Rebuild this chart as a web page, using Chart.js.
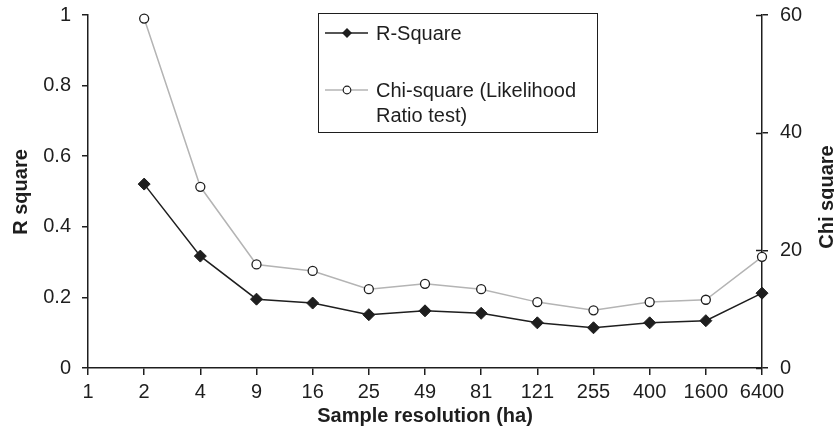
<!DOCTYPE html>
<html><head><meta charset="utf-8">
<script src="https://cdn.jsdelivr.net/npm/chart.js@4/dist/chart.umd.min.js"></script>
<style>html,body{margin:0;padding:0;background:#fff}#wrap{width:834px;height:435px}</style>
</head><body><div id="wrap"><canvas id="c" width="834" height="435"></canvas></div>
<script>
const categories = ['1','2','4','9','16','25','49','81','121','255','400','1600','6400'];
const rSquare = [null,0.521,0.317,0.195,0.184,0.151,0.162,0.155,0.128,0.114,0.128,0.134,0.212];
const chiSquare = [null,59.4,30.8,17.6,16.5,13.4,14.3,13.4,11.2,9.8,11.2,11.6,18.9];
const seriesNames = ['R-Square','Chi-square (Likelihood Ratio test)'];
const legendLines = [['R-Square'],['Chi-square (Likelihood','Ratio test)']];
const xTitle = 'Sample resolution (ha)';
const yLeftTitle = 'R square';
const yRightTitle = 'Chi square';

const FONT = '"Liberation Sans", Arial, Helvetica, sans-serif';
const INK = '#1e1e1e';
const GRAY = '#b4b4b4';

const extras = {
  id: 'extras',
  afterDraw(chart) {
    const ctx = chart.ctx;
    const y1 = chart.scales.y1;
    ctx.save();
    // cross ticks on right axis (inner part)
    ctx.strokeStyle = INK; ctx.lineWidth = 1.5;
    y1.ticks.forEach((t, i) => {
      const py = Math.round(y1.getPixelForTick(i)) + 0.5;
      ctx.beginPath(); ctx.moveTo(y1.left - 6, py); ctx.lineTo(y1.left, py); ctx.stroke();
    });
    // titles
    ctx.fillStyle = INK;
    ctx.font = 'bold 20px ' + FONT;
    ctx.textAlign = 'center'; ctx.textBaseline = 'middle';
    ctx.fillText(xTitle, (chart.chartArea.left + chart.chartArea.right) / 2, 416);
    ctx.save(); ctx.translate(27, 192); ctx.rotate(-Math.PI / 2);
    ctx.textAlign = 'center'; ctx.textBaseline = 'alphabetic';
    ctx.fillText(yLeftTitle, 0, 0); ctx.restore();
    ctx.save(); ctx.translate(833, 197); ctx.rotate(-Math.PI / 2);
    ctx.textAlign = 'center'; ctx.textBaseline = 'alphabetic';
    ctx.fillText(yRightTitle, 0, 0); ctx.restore();
    // legend
    ctx.strokeStyle = INK; ctx.lineWidth = 1;
    ctx.strokeRect(318.5, 13.5, 279, 119);
    ctx.font = '20px ' + FONT; ctx.textAlign = 'left'; ctx.textBaseline = 'middle';
    // item 1
    ctx.strokeStyle = INK; ctx.lineWidth = 1.5;
    ctx.beginPath(); ctx.moveTo(325, 33); ctx.lineTo(368, 33); ctx.stroke();
    ctx.fillStyle = INK;
    ctx.beginPath(); ctx.moveTo(347, 28); ctx.lineTo(352, 33); ctx.lineTo(347, 38); ctx.lineTo(342, 33); ctx.closePath(); ctx.fill();
    ctx.fillText(legendLines[0][0], 376, 34);
    // item 2
    ctx.strokeStyle = GRAY; ctx.lineWidth = 1.5;
    ctx.beginPath(); ctx.moveTo(325, 90); ctx.lineTo(368, 90); ctx.stroke();
    ctx.fillStyle = '#fff'; ctx.strokeStyle = INK; ctx.lineWidth = 1.2;
    ctx.beginPath(); ctx.arc(347, 90, 3.8, 0, Math.PI * 2); ctx.fill(); ctx.stroke();
    ctx.fillStyle = INK;
    ctx.fillText(legendLines[1][0], 376, 91);
    ctx.fillText(legendLines[1][1], 376, 116);
    ctx.restore();
  }
};

const tickFont = { family: FONT, size: 20 };
new Chart(document.getElementById('c'), {
  type: 'line',
  data: {
    labels: categories,
    datasets: [
      { label: seriesNames[1], data: chiSquare, yAxisID: 'y1', borderColor: GRAY, borderWidth: 1.5,
        pointStyle: 'circle', pointRadius: 4.5, pointBackgroundColor: '#fff', pointBorderColor: INK, pointBorderWidth: 1.3,
        tension: 0, spanGaps: false, clip: false },
      { label: seriesNames[0], data: rSquare, yAxisID: 'y', borderColor: INK, borderWidth: 1.5,
        pointStyle: 'rectRot', pointRadius: 6, pointBackgroundColor: INK, pointBorderColor: INK, pointBorderWidth: 1,
        tension: 0, spanGaps: false, clip: false }
    ]
  },
  options: {
    responsive: false, animation: false, devicePixelRatio: 1,
    layout: { padding: { top: 0, left: 0, right: 0, bottom: 0 } },
    plugins: { legend: { display: false }, tooltip: { enabled: false }, title: { display: false } },
    scales: {
      x: {
        type: 'category', offset: false,
        grid: { drawOnChartArea: false, drawTicks: true, tickLength: 7, color: INK, lineWidth: 1.5 },
        border: { display: true, color: INK, width: 1.5 },
        ticks: { font: tickFont, color: INK, padding: 5, maxRotation: 0, autoSkip: false },
        afterFit: s => { s.height = 67; }
      },
      y: {
        position: 'left', min: 0, max: 1,
        grid: { drawOnChartArea: false, drawTicks: true, tickLength: 6, color: INK, lineWidth: 1.5 },
        border: { display: true, color: INK, width: 1.5 },
        ticks: { font: tickFont, color: INK, padding: 11, stepSize: 0.2, callback: v => String(Math.round(v * 10) / 10) },
        afterFit: s => { s.width = 88; s.paddingTop = 15; }
      },
      y1: {
        position: 'right', min: 0, max: 60,
        grid: { drawOnChartArea: false, drawTicks: true, tickLength: 6, color: INK, lineWidth: 1.5 },
        border: { display: true, color: INK, width: 1.5 },
        ticks: { font: tickFont, color: INK, padding: 12, stepSize: 20 },
        afterFit: s => { s.width = 72; s.paddingTop = 15; }
      }
    }
  },
  plugins: [extras]
});
</script></body></html>
